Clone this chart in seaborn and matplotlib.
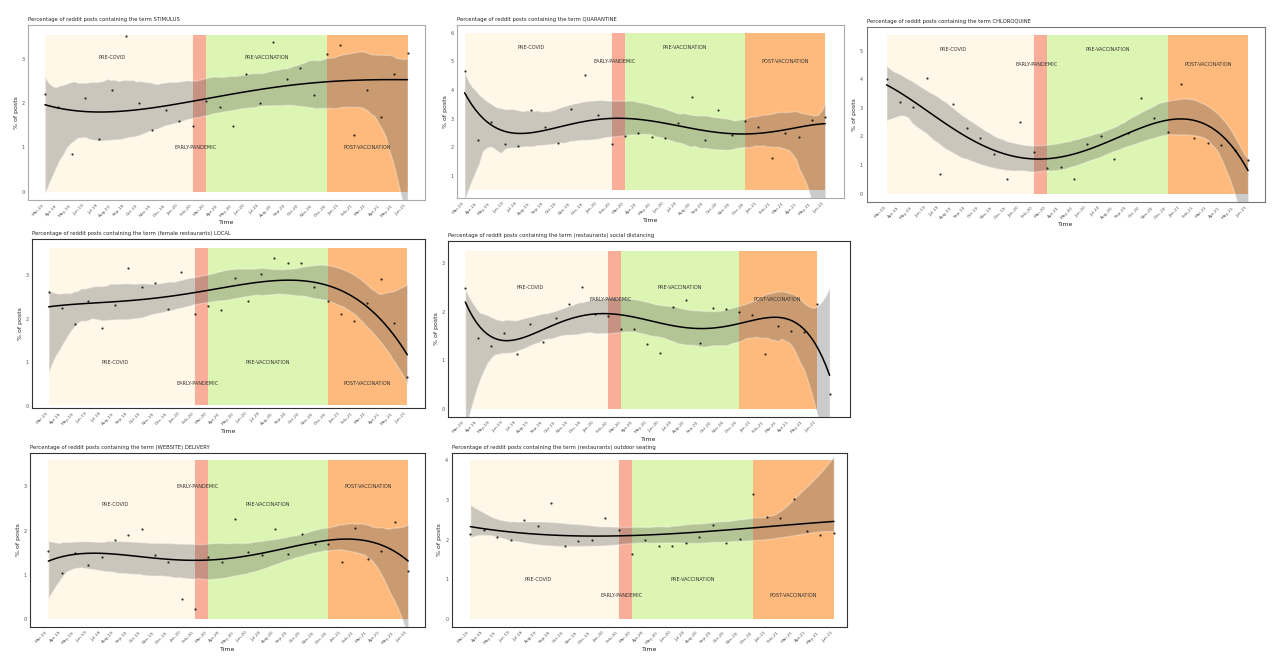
import matplotlib
matplotlib.use('Agg')
import matplotlib.pyplot as plt
from matplotlib.collections import PolyCollection
import pandas as pd
import seaborn as sns

# months on the x axis (one point per month)
months = ['Mar-19', 'Apr-19', 'May-19', 'Jun-19', 'Jul-19', 'Aug-19', 'Sep-19',
          'Oct-19', 'Nov-19', 'Dec-19', 'Jan-20', 'Feb-20', 'Mar-20', 'Apr-20',
          'May-20', 'Jun-20', 'Jul-20', 'Aug-20', 'Sep-20', 'Oct-20', 'Nov-20',
          'Dec-20', 'Jan-21', 'Feb-21', 'Mar-21', 'Apr-21', 'May-21', 'Jun-21',
          'Jul-21']

period_names = ['PRE-COVID', 'EARLY-PANDEMIC', 'PRE-VACCINATION', 'POST-VACCINATION']
period_edges = [0, 11, 12, 21, 27]
period_colors = ['#FFF8E8', '#F8AE98', '#DDF5B2', '#FDBA7C']

stimulus = [2.21, 1.90, 0.86, 2.12, 1.19, 2.30, 3.50, 1.99, 1.40, 1.84, 1.60, 1.48,
            2.05, 1.91, 1.48, 2.65, 2.00, 3.38, 2.53, 2.79, 2.19, 3.10, 3.30, 1.28,
            2.29, 1.69, 2.65, 3.13]
quarantine = [4.67, 2.25, 2.89, 2.11, 2.04, 3.30, 2.69, 2.16, 3.35, 4.54, 3.12, 2.11,
              2.39, 2.48, 2.37, 2.33, 2.86, 3.74, 2.25, 3.30, 2.43, 2.93, 2.69, 1.63,
              2.51, 2.35, 2.95, 3.04]
chloroquine = [4.01, 3.22, 3.02, 4.03, 0.70, 3.14, 2.30, 1.95, 1.40, 0.52, 2.52, 1.45,
               0.91, 0.93, 0.52, 1.75, 2.01, 1.20, 2.12, 3.35, 2.65, 2.15, 3.84, 1.95,
               1.77, 1.72, 1.53, 1.19]
local = [2.62, 2.25, 1.87, 2.42, 1.79, 2.31, 3.18, 2.74, 2.82, 2.23, 3.08, 2.12,
         2.29, 2.20, 2.95, 2.40, 3.04, 3.41, 3.28, 3.28, 2.73, 2.40, 2.12, 1.94,
         2.37, 2.92, 1.90, 0.67]
distancing = [2.48, 1.45, 1.30, 1.55, 1.12, 1.75, 1.38, 1.86, 2.15, 2.51, 1.96, 1.90,
              1.64, 1.64, 1.34, 1.15, 2.09, 2.23, 1.36, 2.07, 2.05, 2.00, 1.92, 1.12,
              1.70, 1.60, 1.57, 2.16, 0.30]
delivery = [1.53, 1.04, 1.50, 1.23, 1.40, 1.79, 1.89, 2.04, 1.45, 1.29, 0.46, 0.23,
            1.40, 1.30, 2.27, 1.51, 1.45, 2.03, 1.48, 1.93, 1.70, 1.70, 1.29, 2.06,
            1.36, 1.54, 2.19, 1.10]
outdoor = [2.15, 2.23, 2.06, 1.98, 2.50, 2.33, 2.92, 1.83, 1.96, 2.00, 2.54, 2.25,
           1.65, 1.98, 1.83, 1.83, 1.92, 2.06, 2.36, 1.92, 2.01, 3.14, 2.56, 2.53,
           3.02, 2.21, 2.11, 2.17]

titles = ['Percentage of reddit posts containing the term STIMULUS',
          'Percentage of reddit posts containing the term QUARANTINE',
          'Percentage of reddit posts containing the term CHLOROQUINE',
          'Percentage of reddit posts containing the term (female restaurants) LOCAL',
          'Percentage of reddit posts containing the term (restaurants) social distancing',
          'Percentage of reddit posts containing the term (WEBSITE) DELIVERY',
          'Percentage of reddit posts containing the term (restaurants) outdoor seating']

panels = [
    dict(y=stimulus, rect=[0.022, 0.700, 0.310, 0.262], xlim=(-1.25, 28.3), ylim=(-0.19, 3.75),
         yticks=[0, 1, 2, 3], band=(0, 3.53), ly=(3.03, 1.0, 3.03, 1.0), order=4, edge='#aaaaaa'),
    dict(y=quarantine, rect=[0.357, 0.703, 0.302, 0.259], xlim=(-0.57, 28.37), ylim=(0.22, 6.26),
         yticks=[1, 2, 3, 4, 5, 6], band=(0.51, 6.0), ly=(5.5, 4.98, 5.5, 4.98), order=5, edge='#aaaaaa'),
    dict(y=chloroquine, rect=[0.677, 0.697, 0.311, 0.262], xlim=(-1.49, 28.24), ylim=(-0.29, 5.81),
         yticks=[0, 1, 2, 3, 4, 5], band=(0, 5.55), ly=(5.02, 4.53, 5.02, 4.53), order=4, edge='#777777'),
    dict(y=local, rect=[0.025, 0.388, 0.307, 0.253], xlim=(-1.25, 28.33), ylim=(-0.06, 3.83),
         yticks=[0, 1, 2, 3], band=(0.02, 3.63), ly=(1.0, 0.5, 1.0, 0.5), order=4, edge='#333333'),
    dict(y=distancing, rect=[0.350, 0.375, 0.314, 0.264], xlim=(-1.33, 29.56), ylim=(-0.17, 3.46),
         yticks=[0, 1, 2, 3], band=(0, 3.24), ly=(2.5, 2.24, 2.5, 2.24), order=5, edge='#333333'),
    dict(y=delivery, rect=[0.0234, 0.060, 0.309, 0.261], xlim=(-1.38, 28.3), ylim=(-0.17, 3.75),
         yticks=[0, 1, 2, 3], band=(0, 3.58), ly=(2.58, 3.0, 2.58, 3.0), order=4, edge='#333333'),
    dict(y=outdoor, rect=[0.353, 0.060, 0.309, 0.261], xlim=(-1.38, 28.0), ylim=(-0.19, 4.17),
         yticks=[0, 1, 2, 3, 4], band=(0.02, 3.98), ly=(1.0, 0.6, 1.0, 0.6), order=3, edge='#333333'),
]
label_x = [5, 11.2, 16.5, 24]

sns.set_style('white')
plt.rcParams['font.family'] = ['DejaVu Sans']

fig = plt.figure(figsize=(12.8, 6.67), dpi=100)

for title, p in zip(titles, panels):
    ax = fig.add_axes(p['rect'])
    df = pd.DataFrame({'t': range(len(p['y'])), 'pct': p['y']})

    # period bands
    lo, hi = p['band']
    for i, col in enumerate(period_colors):
        ax.fill_between([period_edges[i], period_edges[i + 1]], lo, hi,
                        color=col, lw=0, zorder=0)
        ax.text(label_x[i], p['ly'][i], period_names[i], fontsize=3.6,
                ha='center', va='center', color='#333333', zorder=4)

    sns.regplot(data=df, x='t', y='pct', order=p['order'], ci=95, n_boot=400, seed=3,
                ax=ax, color='black', truncate=True,
                scatter_kws={'s': 2.5, 'linewidths': 0, 'zorder': 3},
                line_kws={'lw': 1.1, 'zorder': 3})
    for coll in ax.collections:
        if isinstance(coll, PolyCollection) and coll.get_zorder() != 0:
            coll.set_facecolor('#555555')
            coll.set_alpha(0.3)

    ax.set_xlim(*p['xlim'])
    ax.set_ylim(*p['ylim'])
    ax.set_xticks(range(period_edges[-1] + 1))
    ax.set_xticklabels(months[:period_edges[-1] + 1], rotation=45, ha='right',
                       fontsize=3.2, color='#555555')
    ax.set_yticks(p['yticks'])
    ax.set_yticklabels([str(v) for v in p['yticks']], fontsize=3.5, color='#555555')
    ax.tick_params(length=1.5, width=0.4, pad=1, colors='#555555')
    ax.set_xlabel('Time', fontsize=4.5, labelpad=2)
    ax.set_ylabel('% of posts', fontsize=4.5, labelpad=2)
    ax.set_title(title, fontsize=3.8, loc='left', pad=3)
    for s in ax.spines.values():
        s.set_visible(True)
        s.set_color(p['edge'])
        s.set_linewidth(0.8)

fig.savefig('out.png', dpi=100)
